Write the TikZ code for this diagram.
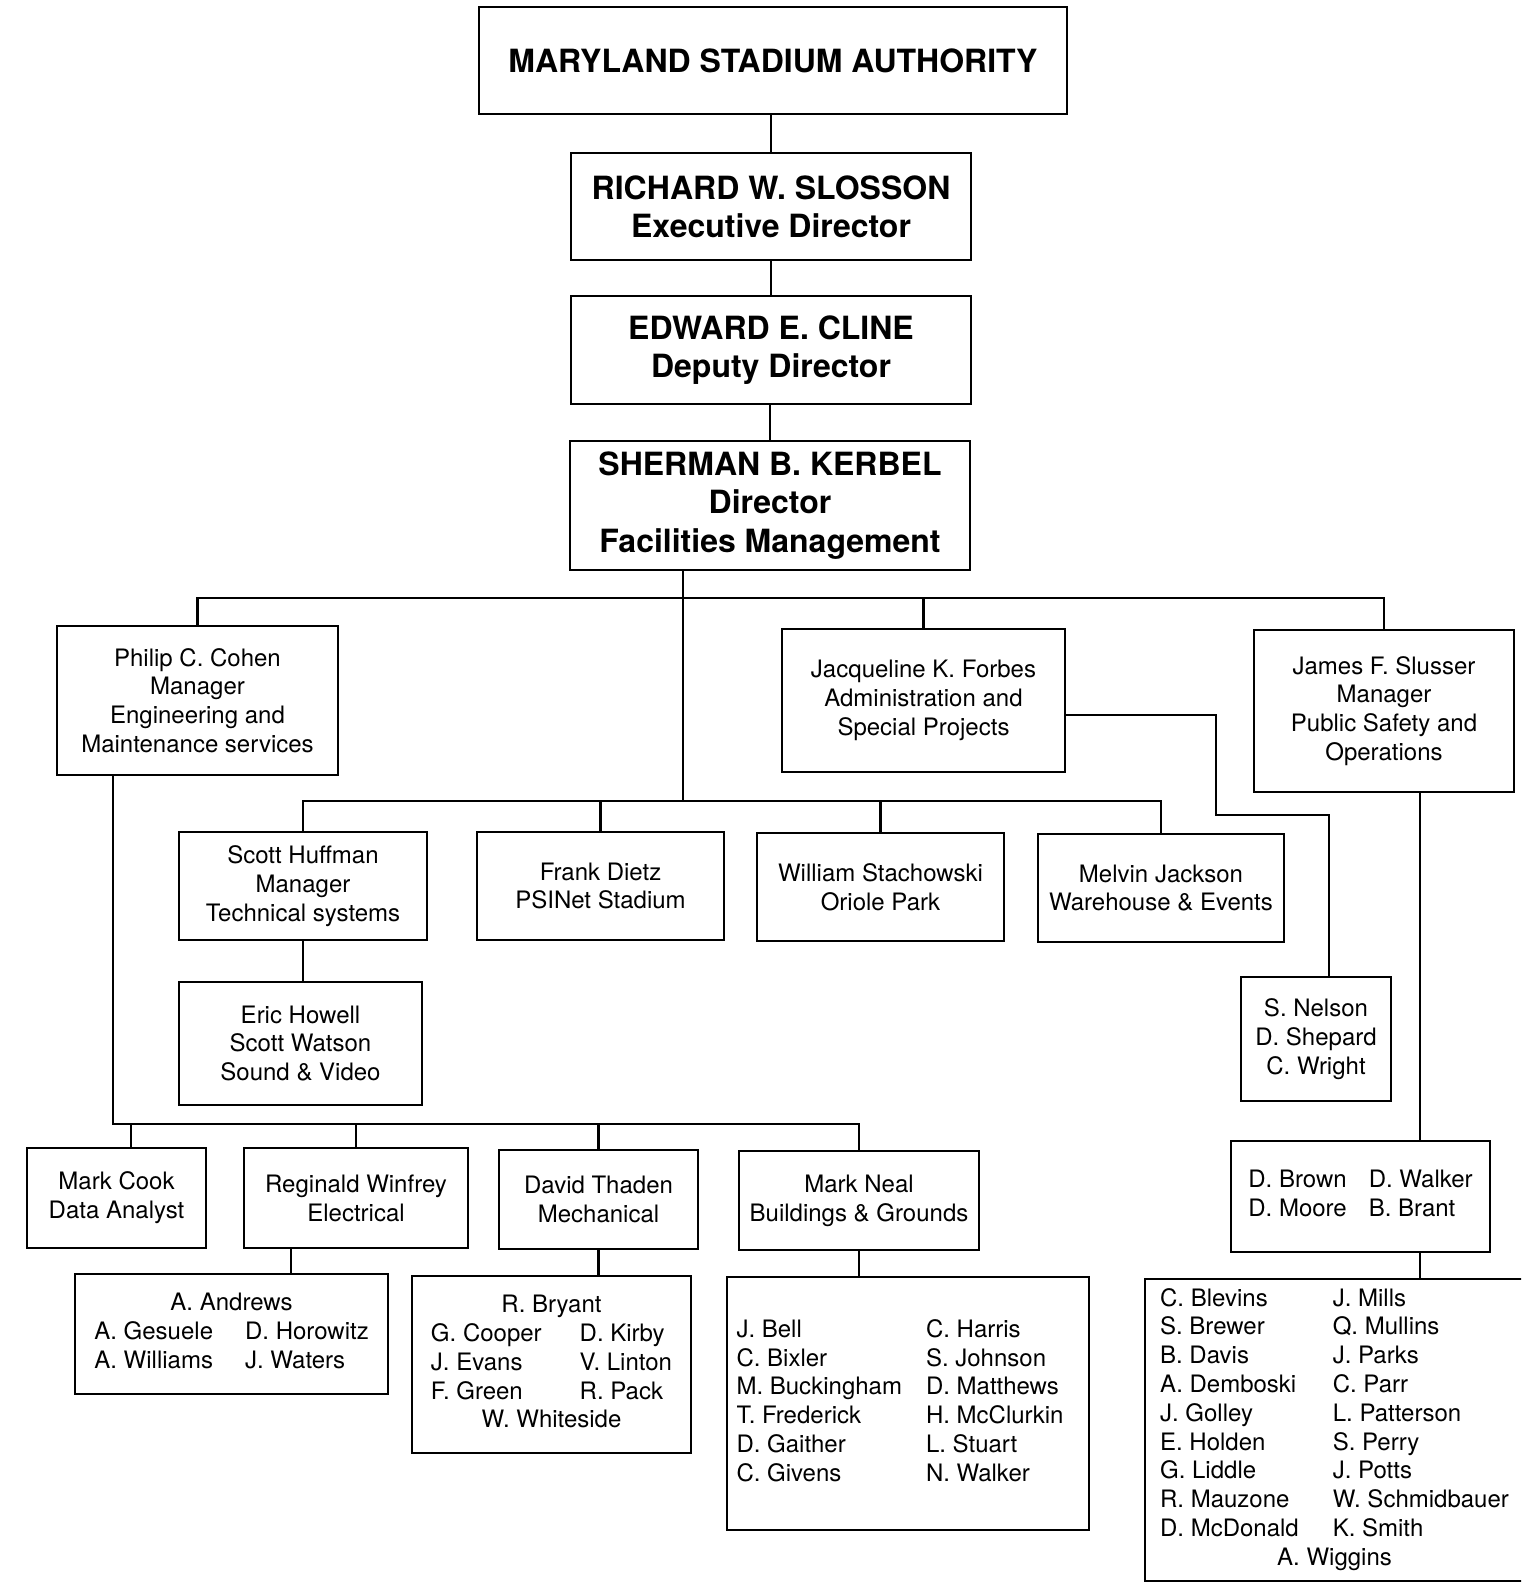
\documentclass[tikz,border=0pt]{standalone}
\usepackage{fontspec}
\setmainfont{TeX Gyre Heros}
\begin{document}
\begin{tikzpicture}[x=0.5pt,y=-0.5pt,
  box/.style={draw, line width=1.3pt, inner sep=0pt, align=center,
    font=\fontsize{12}{14.4}\selectfont},
  bbox/.style={box, font=\bfseries\fontsize{16}{19.2}\selectfont},
  conn/.style={line width=1.2pt},
  edge/.style={line width=1.3pt}]
\useasboundingbox (0,0) rectangle (1521,1585);
\clip (0,0) rectangle (1521,1585);
\fill[white] (0,0) rectangle (1521,1585);

% top chain
\node[bbox, minimum width=294pt, minimum height=53.5pt] (msa) at (773,60.5) {MARYLAND STADIUM AUTHORITY};
\node[bbox, minimum width=200pt, minimum height=53.5pt] (slosson) at (771,206.5) {RICHARD W. SLOSSON\\Executive Director};
\node[bbox, minimum width=200pt, minimum height=54pt] (cline) at (771,350) {EDWARD E. CLINE\\Deputy Director};
\node[bbox, minimum width=200pt, minimum height=64.5pt] (kerbel) at (770,505.5) {SHERMAN B. KERBEL\\Director\\Facilities Management};

% level 2
\node[box, minimum width=140.5pt, minimum height=74.5pt] (cohen) at (197.5,700.5) {Philip C. Cohen\\Manager\\Engineering and\\Maintenance services};
\node[box, minimum width=141.5pt, minimum height=71.5pt] (forbes) at (923.5,700.5) {Jacqueline K. Forbes\\Administration and\\Special Projects};
\node[box, minimum width=130pt, minimum height=81pt] (slusser) at (1384,711) {James F. Slusser\\Manager\\Public Safety and\\Operations};

% level 3
\node[box, minimum width=124pt, minimum height=54pt] (huffman) at (303,886) {Scott Huffman\\Manager\\Technical systems};
\node[box, minimum width=123.5pt, minimum height=54pt] (dietz) at (600.5,886) {Frank Dietz\\PSINet Stadium};
\node[box, minimum width=123.5pt, minimum height=54pt] (stach) at (880.5,887) {William Stachowski\\Oriole Park};
\node[box, minimum width=123pt, minimum height=54pt] (jackson) at (1161,888) {Melvin Jackson\\Warehouse \& Events};
\node[box, minimum width=121.5pt, minimum height=61.5pt] (howell) at (300.5,1043.5) {Eric Howell\\Scott Watson\\Sound \& Video};
\node[box, minimum width=75pt, minimum height=62pt] (nelson) at (1316,1039) {S. Nelson\\D. Shepard\\C. Wright};

% level 4
\node[box, minimum width=89.5pt, minimum height=50pt] (cook) at (116.5,1198) {Mark Cook\\Data Analyst};
\node[box, minimum width=112pt, minimum height=50pt] (winfrey) at (356,1198) {Reginald Winfrey\\Electrical};
\node[box, minimum width=99.5pt, minimum height=49.5pt] (thaden) at (598.5,1199.5) {David Thaden\\Mechanical};
\node[box, minimum width=120pt, minimum height=49.5pt] (neal) at (859,1200.5) {Mark Neal\\Buildings \& Grounds};
\node[box, minimum width=129.5pt, minimum height=55.5pt] (dbrown) at (1360.5,1196.5) {%
  \begin{tabular}{@{}l@{\hspace{11pt}}l@{}}D. Brown & D. Walker\\ D. Moore & B. Brant\end{tabular}};

% level 5
\node[box, minimum width=156.5pt, minimum height=60pt] (andrews) at (231.5,1334) {%
  \begin{tabular}{@{}l@{\hspace{16pt}}l@{}}\multicolumn{2}{c}{A. Andrews}\\ A. Gesuele & D. Horowitz\\ A. Williams & J. Waters\end{tabular}};
\node[box, minimum width=139.5pt, minimum height=88.5pt] (bryant) at (551.5,1364.5) {%
  \begin{tabular}{@{}l@{\hspace{19pt}}l@{}}\multicolumn{2}{c}{R. Bryant}\\ G. Cooper & D. Kirby\\ J. Evans & V. Linton\\ F. Green & R. Pack\\ \multicolumn{2}{c}{W. Whiteside}\end{tabular}};
\node[box, minimum width=181pt, minimum height=126.5pt] (bell) at (908,1403.5) {%
  \begin{tabular}{@{}l@{\hspace{12pt}}l@{}}J. Bell & C. Harris\\ C. Bixler & S. Johnson\\ M. Buckingham & D. Matthews\\ T. Frederick & H. McClurkin\\ D. Gaither & L. Stuart\\ C. Givens & N. Walker\end{tabular}\hspace*{8pt}};
% this box runs off the right edge of the page: its right side is not drawn
\node[box, draw=none, outer sep=0pt, minimum width=200pt, minimum height=151pt] (blevins) at (1345,1430) {%
  \begin{tabular}{@{}l@{\hspace{17pt}}l@{}}C. Blevins & J. Mills\\ S. Brewer & Q. Mullins\\ B. Davis & J. Parks\\ A. Demboski & C. Parr\\ J. Golley & L. Patterson\\ E. Holden & S. Perry\\ G. Liddle & J. Potts\\ R. Mauzone & W. Schmidbauer\\ D. McDonald & K. Smith\\ \multicolumn{2}{c}{A. Wiggins}\end{tabular}\hspace*{10.5pt}};
\draw[edge] (blevins.north east) -- (blevins.north west) -- (blevins.south west) -- (blevins.south east);

% junction coordinates
\coordinate (b1) at (683,598);
\coordinate (b2) at (683,801);
\coordinate (fj) at (1216,715);
\coordinate (nj) at (1329,815);
\coordinate (sx) at (1420,0);
\coordinate (cb) at (113,1124);
\coordinate (ck) at (131,1124);
\coordinate (wa) at (291,0);

% connectors: top chain
\draw[conn] (slosson.north |- msa.south) -- (slosson.north);
\draw[conn] (cline.north |- slosson.south) -- (cline.north);
\draw[conn] (kerbel.north |- cline.south) -- (kerbel.north);

% bus 1
\draw[conn] (cohen.north) -- (cohen.north |- b1) -- (slusser.north |- b1) -- (slusser.north);
\draw[conn] (forbes.north) -- (forbes.north |- b1);
\draw[conn] (kerbel.south -| b1) -- (b2);

% bus 2
\draw[conn] (huffman.north) -- (huffman.north |- b2) -- (jackson.north |- b2) -- (jackson.north);
\draw[conn] (dietz.north) -- (dietz.north |- b2);
\draw[conn] (stach.north) -- (stach.north |- b2);
\draw[conn] (huffman.south) -- (huffman.south |- howell.north);

% Forbes to Nelson
\draw[conn] (forbes.east |- fj) -- (fj) -- (fj |- nj) -- (nj) -- (nj |- nelson.north);

% Slusser chain
\draw[conn] (slusser.south -| sx) -- (dbrown.north -| sx);
\draw[conn] (dbrown.south -| sx) -- (blevins.north -| sx);

% Cohen bus
\draw[conn] (cohen.south -| cb) -- (cb) -- (neal.north |- cb) -- (neal.north);
\draw[conn] (ck) -- (ck |- cook.north);
\draw[conn] (winfrey.north) -- (winfrey.north |- cb);
\draw[conn] (thaden.north) -- (thaden.north |- cb);

% lower stems
\draw[conn] (winfrey.south -| wa) -- (andrews.north -| wa);
\draw[conn] (thaden.south) -- (thaden.south |- bryant.north);
\draw[conn] (neal.south) -- (neal.south |- bell.north);
\end{tikzpicture}
\end{document}
